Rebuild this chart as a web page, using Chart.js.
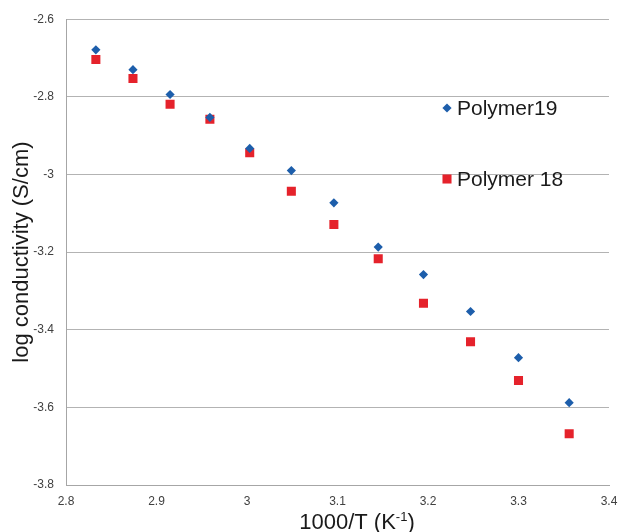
<!DOCTYPE html>
<html>
<head>
<meta charset="utf-8">
<script src="https://cdn.jsdelivr.net/npm/chart.js@4.4.1/dist/chart.umd.min.js"></script>
<style>
  html, body { margin: 0; padding: 0; background: #fff; }
  #wrap { width: 622px; height: 532px; }
</style>
</head>
<body>
<div id="wrap"><canvas id="condChart" width="622" height="532"></canvas></div>
<script>
// 1000/T values (K^-1)
const invT = [2.833, 2.874, 2.915, 2.959, 3.003, 3.049, 3.096, 3.145, 3.195, 3.247, 3.300, 3.356];
// log conductivity (S/cm)
const polymer19 = [-2.679, -2.730, -2.794, -2.853, -2.933, -2.990, -3.073, -3.187, -3.258, -3.353, -3.472, -3.588];
const polymer18 = [-2.704, -2.753, -2.819, -2.858, -2.944, -3.043, -3.129, -3.217, -3.332, -3.431, -3.531, -3.668];
const seriesNames = ['Polymer19', 'Polymer 18'];
const xRange = [2.8, 3.4, 0.1];
const yRange = [-3.8, -2.6, 0.2];
const xTitle = ['1000/T (K', '-1', ')'];

const FONT = '"Liberation Sans", Arial, sans-serif';

document.addEventListener("DOMContentLoaded", function () {
  generateChart();
});

function toPoints(xs, ys) {
  return xs.map((x, i) => ({ x: x, y: ys[i] }));
}

// legend inside the plot + x title with a real superscript
const extras = {
  id: 'extras',
  afterDatasetsDraw(chart) {
    const ctx = chart.ctx;
    const spots = [[447, 108], [447, 179]];
    ctx.save();
    chart.data.datasets.forEach((ds, i) => {
      const [x, y] = spots[i];
      ctx.fillStyle = ds.backgroundColor;
      ctx.strokeStyle = ds.borderColor;
      Chart.helpers.drawPoint(ctx, {
        pointStyle: ds.pointStyle,
        radius: ds.pointRadius,
        borderWidth: 0
      }, x, y);
      ctx.fillStyle = '#1a1a1a';
      ctx.font = '21px ' + FONT;
      ctx.textBaseline = 'middle';
      ctx.textAlign = 'left';
      ctx.fillText(ds.label, x + 10, y + 1);
    });

    // x axis title
    const big = '22px ' + FONT, small = '13px ' + FONT;
    ctx.font = big;
    const w1 = ctx.measureText(xTitle[0]).width;
    const w3 = ctx.measureText(xTitle[2]).width;
    ctx.font = small;
    const w2 = ctx.measureText(xTitle[1]).width;
    let tx = 357 - (w1 + w2 + w3) / 2;
    const ty = 529;
    ctx.textBaseline = 'alphabetic';
    ctx.fillStyle = '#1a1a1a';
    ctx.font = big;
    ctx.fillText(xTitle[0], tx, ty);
    tx += w1;
    ctx.font = small;
    ctx.fillText(xTitle[1], tx, ty - 8);
    tx += w2;
    ctx.font = big;
    ctx.fillText(xTitle[2], tx, ty);
    ctx.restore();
  }
};

function generateChart() {
  var ctx = document.getElementById("condChart").getContext('2d');
  const fmt = (v) => String(+Number(v).toFixed(1));

  var myChart = new Chart(ctx, {
    type: 'scatter',
    data: {
      datasets: [{
        label: seriesNames[0],
        data: toPoints(invT, polymer19),
        pointStyle: 'rectRot',
        pointRadius: 4.6,
        borderWidth: 0,
        backgroundColor: '#1d5eab',
        borderColor: '#1d5eab'
      },
      {
        label: seriesNames[1],
        data: toPoints(invT, polymer18),
        pointStyle: 'rect',
        pointRadius: 6.4,
        borderWidth: 0,
        backgroundColor: '#e5222b',
        borderColor: '#e5222b'
      }]
    },
    options: {
      responsive: false,
      animation: false,
      layout: { padding: { top: 18, right: 13, left: 0, bottom: 0 } },
      plugins: {
        legend: { display: false },
        tooltip: { enabled: false }
      },
      scales: {
        x: {
          type: 'linear',
          min: xRange[0],
          max: xRange[1],
          grid: { display: false, drawTicks: false },
          border: { display: true, color: '#a6a6a6', width: 1 },
          ticks: {
            stepSize: xRange[2],
            padding: 9,
            color: '#404040',
            font: { family: FONT, size: 12 },
            callback: fmt
          },
          afterFit(scale) {
            scale.height = 47;
            scale.paddingLeft = 0;
            scale.paddingRight = 0;
          }
        },
        y: {
          min: yRange[0],
          max: yRange[1],
          grid: { color: '#b3b3b3', lineWidth: 1, drawTicks: false },
          border: { display: true, color: '#a6a6a6', width: 1 },
          ticks: {
            stepSize: yRange[2],
            padding: 12,
            color: '#404040',
            font: { family: FONT, size: 12 },
            callback: fmt
          },
          title: {
            display: true,
            text: 'log conductivity (S/cm)',
            color: '#1a1a1a',
            font: { family: FONT, size: 22 },
            padding: { top: 9, bottom: 0 }
          },
          afterFit(scale) { scale.width = 66; }
        }
      }
    },
    plugins: [extras]
  });
}
</script>
</body>
</html>
